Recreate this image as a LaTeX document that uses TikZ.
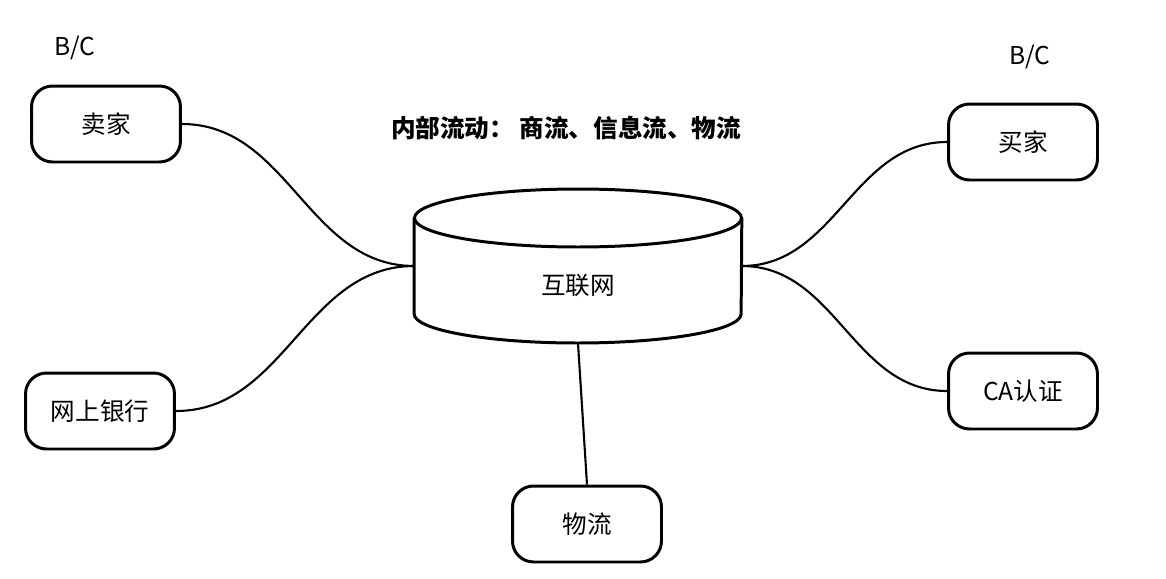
\documentclass[tikz,border=0pt]{standalone}
\usepackage{fontspec}
\setmainfont{Noto Sans CJK SC}
\usepackage{tikz}
\usetikzlibrary{shapes.geometric, positioning, calc}

\begin{document}
\begin{tikzpicture}[
    x=0.02cm, y=-0.02cm,
    txt/.style={font=\fontsize{14}{17}\selectfont, inner sep=0pt},
    party/.style={draw, rounded corners=0.42cm, minimum width=2.98cm, minimum height=1.52cm, line width=1.7pt, txt},
    net/.style={minimum width=6.54cm, minimum height=3.08cm, inner sep=0pt},
    body/.style={line width=1.7pt},
    link/.style={line width=1.2pt},
  ]
  \useasboundingbox (0,0) rectangle (1166,578);
  % internet cylinder
  \node[net] (inet) at (578,266) {};
  \draw[body] ($(inet.west)+(0,-48)$) -- ($(inet.west)+(0,48)$)
    arc[start angle=180, end angle=360, x radius=3.27cm, y radius=0.58cm]
    -- ($(inet.east)+(0,-48)$);
  \draw[body] ($(inet.center)+(0,-48)$) ellipse[x radius=3.27cm, y radius=0.58cm];
  \node[txt] (inettxt) at (578,285) {互联网};
  % parties
  \node[party] (seller) at (106,124) {卖家};
  \node[party] (bank) at (100,411) {网上银行};
  \node[party] (buyer) at (1023,142) {买家};
  \node[party] (ca) at (1023,391) {CA认证};
  \node[party] (logi) at (587,524) {物流};
  \node[txt] (bcl) at (75,48) {B/C};
  \node[txt] (bcr) at (1030,57) {B/C};
  \node[txt, font=\fontsize{14}{17}\selectfont\bfseries] (flow) at (566,128) {内部流动： 商流、信息流、物流};
  % links
  \draw[link] (seller.east) to[out=0, in=180] (inet.west);
  \draw[link] (bank.east) to[out=0, in=180] (inet.west);
  \draw[link] (buyer.west) to[out=180, in=0] (inet.east);
  \draw[link] (ca.west) to[out=180, in=0] (inet.east);
  \draw[link] (logi.north) -- (inet.south);
\end{tikzpicture}
\end{document}
